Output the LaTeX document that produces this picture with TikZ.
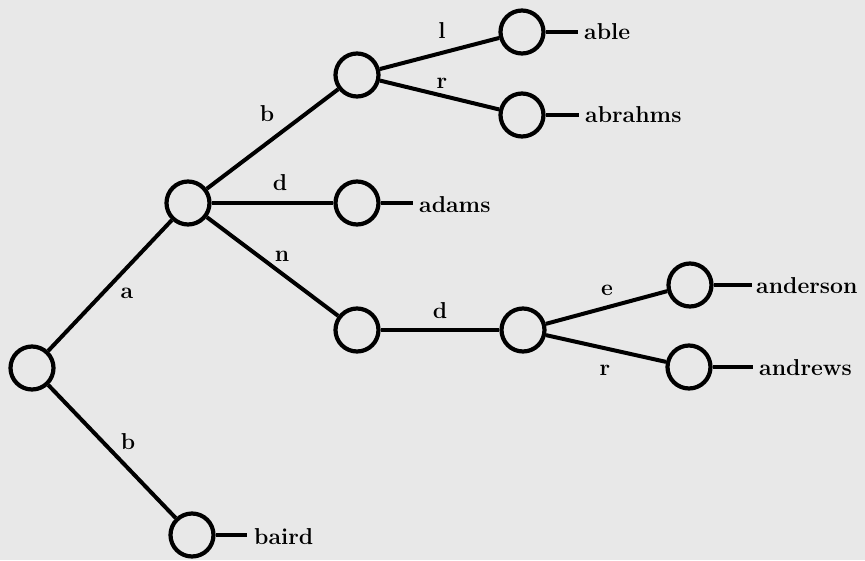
\documentclass[tikz,border=0pt]{standalone}
\begin{document}
\begin{tikzpicture}[x=1pt,y=-1pt,
  trienode/.style={circle,draw,line width=4.2pt,minimum size=43pt,inner sep=0pt},
  edge/.style={line width=4pt},
  word/.style={anchor=west,inner sep=0pt,font=\fontsize{23}{27}\selectfont\bfseries},
  elabel/.style={inner sep=0pt,font=\fontsize{23}{27}\selectfont\bfseries}]
\fill[black!9] (0,0) rectangle (865,560);
\useasboundingbox (0,0) rectangle (865,560);
% nodes
\node[trienode] (r) at (32,368) {};
\node[trienode] (A) at (188,203) {};
\node[trienode] (B) at (192,535) {};
\node[trienode] (ab) at (357,75) {};
\node[trienode] (ad) at (357,203) {};
\node[trienode] (an) at (357,330) {};
\node[trienode] (abl) at (522,32) {};
\node[trienode] (abr) at (522,115) {};
\node[trienode] (and) at (523,330) {};
\node[trienode] (ande) at (690,285) {};
\node[trienode] (andr) at (689,367) {};
% words
\node[word] (wable) at (584,32) {able};
\node[word] (wabrahms) at (585,115) {abrahms};
\node[word] (wadams) at (419,205) {adams};
\node[word] (wanderson) at (756,286) {anderson};
\node[word] (wandrews) at (759,368) {andrews};
\node[word] (wbaird) at (254,537) {baird};
\coordinate (sable) at (578,32);
\coordinate (sabrahms) at (579,115);
\coordinate (sadams) at (413,203);
\coordinate (sanderson) at (752,285);
\coordinate (sandrews) at (753,367);
\coordinate (sbaird) at (247,535);
% edges
\draw[edge] (r) -- (A);
\draw[edge] (r) -- (B);
\draw[edge] (A) -- (ab);
\draw[edge] (A) -- (ad);
\draw[edge] (A) -- (an);
\draw[edge] (ab) -- (abl);
\draw[edge] (ab) -- (abr);
\draw[edge] (an) -- (and);
\draw[edge] (and) -- (ande);
\draw[edge] (and) -- (andr);
% stubs
\draw[edge] (abl) -- (sable);
\draw[edge] (abr) -- (sabrahms);
\draw[edge] (ad) -- (sadams);
\draw[edge] (ande) -- (sanderson);
\draw[edge] (andr) -- (sandrews);
\draw[edge] (B) -- (sbaird);
% edge labels
\node[elabel] (la) at (127,293) {a};
\node[elabel] (lb1) at (128,442) {b};
\node[elabel] (lb2) at (267,114) {b};
\node[elabel] (ld1) at (280,183) {d};
\node[elabel] (ll) at (442,31) {l};
\node[elabel] (lr1) at (442,83) {r};
\node[elabel] (ln) at (282,256) {n};
\node[elabel] (ld2) at (440,311) {d};
\node[elabel] (le) at (607,290) {e};
\node[elabel] (lr2) at (605,370) {r};
\end{tikzpicture}
\end{document}
